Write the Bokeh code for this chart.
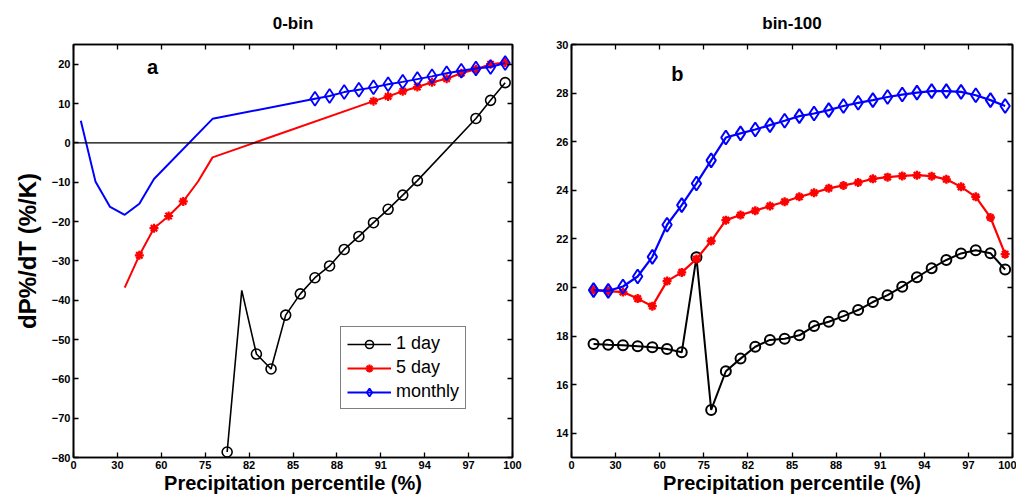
import numpy as np
from bokeh.plotting import figure
from bokeh.layouts import row
from bokeh.models import (FixedTicker, LinearAxis, Legend, LegendItem, Label, Span,
                          CustomLabelingPolicy)
from bokeh.embed import file_html
from bokeh.resources import INLINE

# ---------------- data ----------------
tick_pct = [0, 30, 60, 75, 82, 85, 88, 91, 94, 97, 100]
tick_labels = ["0", "30", "60", "75", "82", "85", "88", "91", "94", "97", "100"]

# panel b (bin-100)
pct_b = [15, 25, 35, 45, 55, 62.5, 67.5, 72.5, 76.17, 78.5, 80.83, 82.5, 83.5, 84.5,
         85.5, 86.5, 87.5, 88.5, 89.5, 90.5, 91.5, 92.5, 93.5, 94.5, 95.5, 96.5,
         97.5, 98.5, 99.5]
day1_b = [17.67, 17.64, 17.62, 17.58, 17.54, 17.47, 17.33, 21.24, 14.96, 16.55, 17.07,
          17.56, 17.84, 17.89, 18.03, 18.41, 18.59, 18.82, 19.07, 19.40, 19.68, 20.03,
          20.42, 20.79, 21.13, 21.40, 21.53, 21.41, 20.74]
day5_b = [19.89, 19.85, 19.81, 19.54, 19.23, 20.26, 20.62, 21.17, 21.91, 22.77, 22.98,
          23.16, 23.35, 23.53, 23.73, 23.90, 24.08, 24.20, 24.32, 24.47, 24.54, 24.59,
          24.62, 24.58, 24.45, 24.14, 23.73, 22.88, 21.37]
mon_b = [19.89, 19.86, 20.04, 20.45, 21.26, 22.58, 23.39, 24.28, 25.23, 26.17, 26.34,
         26.50, 26.68, 26.86, 27.05, 27.16, 27.30, 27.47, 27.60, 27.71, 27.84, 27.94,
         28.02, 28.08, 28.08, 28.05, 27.91, 27.71, 27.47]

# panel a (0-bin)
day1_a_pct = [78.5, 80.83, 82.5, 83.5, 84.5, 85.5, 86.5, 87.5, 88.5, 89.5, 90.5, 91.5,
              92.5, 93.5, 97.5, 98.5, 99.5]
day1_a = [-78.6, -37.5, -53.7, -57.5, -43.8, -38.4, -34.3, -31.3, -27.1, -23.8, -20.3,
          -16.9, -13.3, -9.6, 6.2, 10.8, 15.3]
day1_a_mark = [1, 0, 1, 1, 1, 1, 1, 1, 1, 1, 1, 1, 1, 1, 1, 1, 1]

day5_a_pct = [35, 45, 55, 62.5, 67.5, 72.5, 76.17, 90.5, 91.5, 92.5, 93.5, 94.5, 95.5,
              96.5, 97.5, 98.5, 99.5]
day5_a = [-36.8, -28.6, -21.7, -18.6, -14.9, -9.9, -3.7, 10.6, 11.8, 13.1, 14.2, 15.4,
          16.3, 17.7, 18.7, 20.0, 20.4]
day5_a_mark = [0, 1, 1, 1, 1, 0, 0, 1, 1, 1, 1, 1, 1, 1, 1, 1, 1]

mon_a_pct = [5, 15, 25, 35, 45, 55, 76.17, 86.5, 87.5, 88.5, 89.5, 90.5, 91.5, 92.5,
             93.5, 94.5, 95.5, 96.5, 97.5, 98.5, 99.5]
mon_a = [5.6, -9.8, -16.3, -18.3, -15.5, -9.2, 6.1, 11.2, 11.9, 12.9, 13.5, 14.1, 14.9,
         15.5, 16.2, 16.9, 17.7, 18.3, 18.9, 19.3, 20.3]
mon_a_mark = [0, 0, 0, 0, 0, 0, 0, 1, 1, 1, 1, 1, 1, 1, 1, 1, 1, 1, 1, 1, 1]

yticks_a = list(range(-80, 21, 10))
yticks_b = list(range(14, 31, 2))

# ---------------- helpers ----------------
FONT = "Liberation Sans"
tick_pos = list(range(len(tick_pct)))


def xpos(p):
    return list(np.interp(p, tick_pct, tick_pos))


def sel(vals, mask):
    return [v for v, m in zip(vals, mask) if m]


def style_axis(ax, ticks, labels=True, overrides=None):
    ax.ticker = FixedTicker(ticks=ticks)
    ax.major_tick_in = 5
    ax.major_tick_out = 0
    ax.minor_tick_line_color = None
    ax.axis_line_width = 1.6
    ax.major_tick_line_width = 1.3
    ax.axis_line_color = "black"
    ax.major_tick_line_color = "black"
    ax.major_label_text_font = FONT
    ax.major_label_text_font_style = "bold"
    ax.major_label_text_color = "black"
    ax.axis_label_text_color = "black"
    if labels:
        ax.major_label_text_font_size = "11px"
        ax.major_label_standoff = 3
    else:
        ax.major_label_text_font_size = "1px"
        ax.major_label_standoff = 0
        ax.major_label_policy = CustomLabelingPolicy(code="return new Set()")
    if overrides:
        ax.major_label_overrides = overrides


def make_fig(title, yr, yticks, width, bl, br):
    p = figure(width=width, height=496, x_range=(0, 10), y_range=yr,
               output_backend="svg", toolbar_location=None,
               min_border_left=bl, min_border_right=br,
               min_border_top=44, min_border_bottom=30)
    p.xgrid.visible = False
    p.ygrid.visible = False
    p.outline_line_color = "black"
    p.outline_line_width = 1.6
    p.background_fill_color = "white"
    p.border_fill_color = "white"
    p.title.text = title
    p.title.align = "center"
    p.title.text_font = FONT
    p.title.text_font_size = "17px"
    p.title.text_font_style = "bold"
    p.title.text_color = "black"
    p.title.standoff = 15
    ov = {i: lab for i, lab in zip(tick_pos, tick_labels)}
    style_axis(p.xaxis[0], tick_pos, True, ov)
    style_axis(p.yaxis[0], yticks, True)
    p.xaxis[0].axis_label = "Precipitation percentile (%)"
    p.xaxis[0].axis_label_text_font = FONT
    p.xaxis[0].axis_label_text_font_size = "20px"
    p.xaxis[0].axis_label_text_font_style = "bold"
    p.xaxis[0].axis_label_standoff = 0
    top = LinearAxis()
    style_axis(top, tick_pos, False)
    p.add_layout(top, "above")
    right = LinearAxis()
    style_axis(right, yticks, False)
    p.add_layout(right, "right")
    return p


# ---------------- panel a ----------------
pa = make_fig("0-bin", (-80, 25), yticks_a, 528, 73, 16)
pa.yaxis[0].axis_label = "dP%/dT (%/K)"
pa.yaxis[0].axis_label_text_font = FONT
pa.yaxis[0].axis_label_text_font_size = "24px"
pa.yaxis[0].axis_label_text_font_style = "bold"
pa.yaxis[0].axis_label_standoff = 8

pa.add_layout(Span(location=0, dimension="width", line_color="black", line_width=1.3))

l1 = pa.line(xpos(day1_a_pct), day1_a, line_color="black", line_width=1.6)
m1 = pa.scatter(xpos(sel(day1_a_pct, day1_a_mark)), sel(day1_a, day1_a_mark),
                marker="circle", size=10, fill_color=None, line_color="black", line_width=1.6)
l5 = pa.line(xpos(day5_a_pct), day5_a, line_color="red", line_width=2)
m5 = pa.scatter(xpos(sel(day5_a_pct, day5_a_mark)), sel(day5_a, day5_a_mark),
                marker="asterisk", size=9, line_color="red", line_width=2.2)
lm = pa.line(xpos(mon_a_pct), mon_a, line_color="blue", line_width=2)
mm = pa.scatter(xpos(sel(mon_a_pct, mon_a_mark)), sel(mon_a, mon_a_mark),
                marker="diamond", size=14, fill_color=None, line_color="blue", line_width=1.8)

leg = Legend(items=[LegendItem(label="1 day", renderers=[l1, m1]),
                    LegendItem(label="5 day", renderers=[l5, m5]),
                    LegendItem(label="monthly", renderers=[lm, mm])],
             location=(267, 48))
leg.border_line_color = "black"
leg.border_line_width = 1.6
leg.label_text_font = FONT
leg.label_text_font_size = "18px"
leg.label_text_color = "black"
leg.glyph_width = 44
leg.glyph_height = 20
leg.label_height = 20
leg.label_standoff = 5
leg.padding = 6
leg.spacing = 3
leg.margin = 0
leg.background_fill_alpha = 1
pa.add_layout(leg, "center")

pa.add_layout(Label(x=1.8, y=19.4, text="a", text_font=FONT, text_font_size="20px",
                    text_font_style="bold", text_color="black",
                    text_align="center", text_baseline="middle"))

# ---------------- panel b ----------------
pb = make_fig("bin-100", (13, 30), yticks_b, 488, 43, 4)
xb = xpos(pct_b)
pb.line(xb, day1_b, line_color="black", line_width=2)
pb.scatter(xb, day1_b, marker="circle", size=10, fill_color=None, line_color="black", line_width=2)
pb.line(xb, day5_b, line_color="red", line_width=2.2)
pb.scatter(xb, day5_b, marker="asterisk", size=9, line_color="red", line_width=2.4)
pb.line(xb, mon_b, line_color="blue", line_width=2.2)
pb.scatter(xb, mon_b, marker="diamond", size=14, fill_color=None, line_color="blue", line_width=2)

pb.add_layout(Label(x=2.4, y=28.8, text="b", text_font=FONT, text_font_size="20px",
                    text_font_style="bold", text_color="black",
                    text_align="center", text_baseline="middle"))

layout = row(pa, pb, spacing=0)
open("out.html", "w").write(file_html(layout, INLINE))
